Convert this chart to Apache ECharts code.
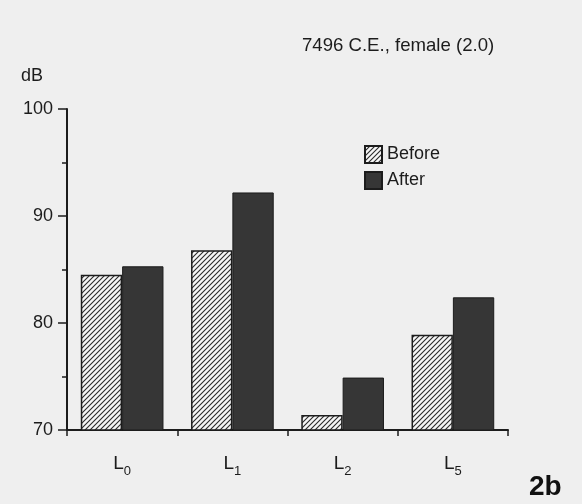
<!DOCTYPE html>
<html>
<head>
<meta charset="utf-8">
<script src="https://cdn.jsdelivr.net/npm/echarts@6/dist/echarts.min.js"></script>
<style>
html,body{margin:0;padding:0;background:#efefef;}
#c{width:582px;height:504px;}
</style>
</head>
<body>
<div id="c"></div>
<script>
var categories = ['0', '1', '2', '5'];
var beforeValues = [84.5, 86.8, 71.4, 78.9];
var afterValues = [85.3, 92.2, 74.9, 82.4];
var yTicks = { min: 70, max: 100, interval: 10 };
var titleText = '7496 C.E., female (2.0)';
var unitText = 'dB';
var panelText = '2b';

function hatch() {
  var s = 5;
  var cv = document.createElement('canvas');
  cv.width = s; cv.height = s;
  var ctx = cv.getContext('2d');
  ctx.fillStyle = '#f6f6f6';
  ctx.fillRect(0, 0, s, s);
  ctx.strokeStyle = '#2a2a2a';
  ctx.lineWidth = 1.1;
  ctx.beginPath();
  ctx.moveTo(-1, s + 1); ctx.lineTo(s + 1, -1);
  ctx.moveTo(-1, 1); ctx.lineTo(1, -1);
  ctx.moveTo(s - 1, s + 1); ctx.lineTo(s + 1, s - 1);
  ctx.stroke();
  return cv;
}

var chart = echarts.init(document.getElementById('c'));
var font = '"Liberation Sans", Arial, sans-serif';
var ink = '#1c1c1c';
chart.setOption({
  backgroundColor: '#efefef',
  animation: false,
  grid: { left: 67, right: 74, top: 109, bottom: 74 },
  legend: {
    orient: 'vertical', left: 359, top: 140,
    itemWidth: 17, itemHeight: 17, itemGap: 7, itemTextGap: 7,
    icon: 'rect',
    textStyle: { fontFamily: font, fontSize: 18, color: ink },
    data: ['Before', 'After']
  },
  xAxis: {
    type: 'category',
    data: categories,
    axisLine: { lineStyle: { color: ink, width: 2 } },
    axisTick: { show: true, length: 6, lineStyle: { color: ink, width: 1.5 } },
    axisLabel: {
      margin: 21,
      formatter: function (v) { return '{a|L}{b|' + v + '}'; },
      rich: {
        a: { fontFamily: font, fontSize: 19, color: ink, verticalAlign: 'bottom', lineHeight: 22 },
        b: { fontFamily: font, fontSize: 13, color: ink, verticalAlign: 'bottom', lineHeight: 22, padding: [0, 0, -5, 0] }
      }
    }
  },
  yAxis: {
    type: 'value',
    min: yTicks.min, max: yTicks.max, interval: yTicks.interval,
    axisLine: { show: true, lineStyle: { color: ink, width: 2 } },
    axisTick: { show: true, length: 9, lineStyle: { color: ink, width: 1.5 } },
    minorTick: { show: true, splitNumber: 2, length: 5, lineStyle: { color: ink, width: 1.5 } },
    splitLine: { show: false },
    axisLabel: { margin: 14, fontFamily: font, fontSize: 18, color: ink }
  },
  series: [
    {
      name: 'Before', type: 'bar', data: beforeValues,
      barGap: '0%', barCategoryGap: '25%',
      itemStyle: { color: { image: hatch(), repeat: 'repeat' }, borderColor: ink, borderWidth: 1.5 }
    },
    {
      name: 'After', type: 'bar', data: afterValues,
      barGap: '0%', barCategoryGap: '25%',
      itemStyle: { color: '#363636', borderColor: ink, borderWidth: 1 }
    }
  ],
  graphic: [
    { type: 'text', left: 302, top: 36, style: { text: titleText, font: '18.6px ' + font, fill: ink } },
    { type: 'text', left: 21, top: 67, style: { text: unitText, font: '18px ' + font, fill: ink } },
    { type: 'text', left: 529, top: 473, style: { text: panelText, font: 'bold 28px ' + font, fill: '#111' } }
  ]
});
</script>
</body>
</html>
